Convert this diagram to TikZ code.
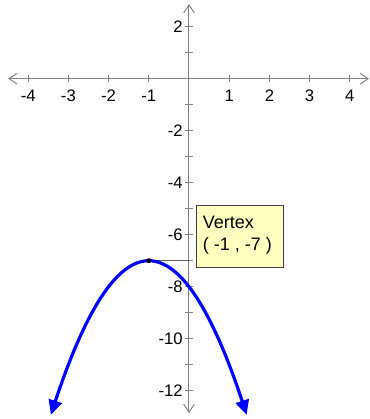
\documentclass[tikz,border=0pt]{standalone}
\usepackage{fontspec}
\setmainfont{Liberation Sans}
\usetikzlibrary{arrows.meta}
\definecolor{axisgray}{RGB}{128,128,128}
\definecolor{linegray}{RGB}{96,96,96}
\definecolor{noteyellow}{RGB}{255,255,192}
\definecolor{noteborder}{RGB}{64,64,64}
\begin{document}
\begin{tikzpicture}[x=30.15pt,y=19.5pt,
  axisline/.style={draw=axisgray, line width=0.75pt,
    {Straight Barb[length=6pt,width=8pt]}-{Straight Barb[length=6pt,width=8pt]}},
  tickmark/.style={draw=axisgray, line width=0.75pt},
  ticklabel/.style={inner sep=0pt, font=\fontsize{12.5}{14}\selectfont},
  xlab/.style={ticklabel, anchor=north, yshift=-8pt},
  ylab/.style={ticklabel, anchor=east, xshift=-4.5pt},
  curve/.style={draw=blue, line width=2.4pt,
    {Triangle[length=11pt,width=10pt]}-{Triangle[length=11pt,width=10pt]}},
  vdot/.style={circle, fill=black, inner sep=0pt, minimum size=3.5pt},
  guide/.style={draw=linegray, line width=0.9pt},
  notebox/.style={draw=noteborder, fill=noteyellow, line width=0.75pt,
    inner sep=0pt, anchor=north west},
  notetext/.style={inner sep=0pt, anchor=base west, font=\fontsize{13.5}{16}\selectfont}
]
\useasboundingbox (-4.701,-13.088) rectangle (4.502,3.027);
% axes
\coordinate (xl) at (-4.50,0);
\coordinate (xr) at (4.478,0);
\coordinate (yt) at (0,2.87);
\coordinate (yb) at (0,-12.86);
\draw[axisline] (xl) -- (xr);
\draw[axisline] (yb) -- (yt);
% ticks
\foreach \i in {-4,-3,-2,-1,1,2,3,4}{
  \draw[tickmark] (\i,0) ++(0,-2.8pt) -- ++(0,5.6pt);
  \node[xlab] (xl\i) at (\i,0) {\i};
}
\foreach \j in {2,1,-1,-2,-3,-4,-5,-6,-7,-8,-9,-10,-11,-12}{
  \draw[tickmark] (0,\j) ++(-2.8pt,0) -- ++(5.6pt,0);
}
\foreach \j in {2,-2,-4,-6,-8,-10,-12}{
  \node[ylab] (yl\j) at (0,\j) {\j};
}
% vertex guide
\node[vdot] (vtx) at (-1,-7) {};
\coordinate (vy) at (0,-7);
\draw[guide] (vtx.center) -- (vy);
% parabola
\draw[curve] plot[domain=-3.435:1.435, samples=80, smooth] (\x,{-(\x+1)*(\x+1)-7});
\node[vdot] at (vtx) {};
% callout
\node[notebox, minimum width=65pt, minimum height=46.3pt] (box) at (0.174,-4.858) {};
\node[notetext] (t1) at (0.34,-5.754) {Vertex};
\node[notetext] (t2) at (0.34,-6.588) {( -1 , -7 )};
\end{tikzpicture}
\end{document}
